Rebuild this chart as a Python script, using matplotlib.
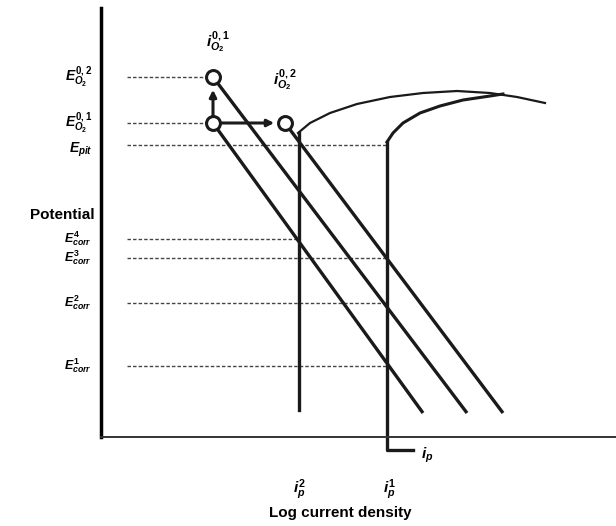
import matplotlib
matplotlib.use("Agg")
import matplotlib.pyplot as plt

plt.rcParams['font.family'] = ['Liberation Sans', 'DejaVu Sans']
plt.rcParams['mathtext.fontset'] = 'custom'
plt.rcParams['mathtext.it'] = 'Liberation Sans:italic:bold'
plt.rcParams['mathtext.rm'] = 'Liberation Sans:bold'
plt.rcParams['mathtext.bf'] = 'Liberation Sans:bold'

# ---- data (arbitrary units: log current density, potential) ----
e_labels = [r'$E^{0,2}_{O_2}$', r'$E^{0,1}_{O_2}$', r'$E_{pit}$',
            r'$E^{4}_{corr}$', r'$E^{3}_{corr}$', r'$E^{2}_{corr}$', r'$E^{1}_{corr}$']
e_values = [360, 314, 292, 198, 179, 134, 71]
e_line_end = [112, 112, 286, 198, 286, 286, 286]
e_line_start = 26

# O2 reduction (Tafel) lines
tafel_x0 = [112, 112, 184]
tafel_y0 = [314, 360, 314]
tafel_x1 = [322, 366, 402]
tafel_y1 = [24, 24, 24]

# exchange current density points
circle_x = [112, 112, 184]
circle_y = [360, 314, 314]

# passive current densities
ip2_x = 198
ip1_x = 286
ip2_top, ip2_bottom = 304, 27
ip1_top, ip1_bottom = 295, -13

# anodic curves
curve1_x = [197, 209, 229, 256, 289, 322, 356, 389, 416, 444]
curve1_y = [304, 314, 324, 333, 340, 344, 346, 344, 340, 334]
curve2_x = [286, 292, 302, 319, 339, 362, 389, 402]
curve2_y = [295, 304, 314, 324, 331, 337, 341, 343]

W, H = 616, 526
fig = plt.figure(figsize=(W / 100, H / 100), dpi=100)
ax = fig.add_axes([101 / W, (H - 437) / H, (W - 101) / W, (437 - 8) / H])
ax.set_xlim(0, 515)
ax.set_ylim(0, 429)
ax.set_xticks([])
ax.set_yticks([])
for s in ['top', 'right']:
    ax.spines[s].set_visible(False)
ax.spines['left'].set_linewidth(2.5)
ax.spines['bottom'].set_linewidth(1.4)
ax.spines['bottom'].set_color('#333333')

# dotted potential levels
for y, xe in zip(e_values, e_line_end):
    ax.plot([e_line_start, xe], [y, y], color='#444444', lw=1.0,
            linestyle=(0, (2.5, 1.5)))

# Tafel lines
for x0, y0, x1, y1 in zip(tafel_x0, tafel_y0, tafel_x1, tafel_y1):
    ax.plot([x0, x1], [y0, y1], color='#1a1a1a', lw=2.4, solid_capstyle='butt')

# verticals (passive current densities)
ax.plot([ip2_x, ip2_x], [ip2_top, ip2_bottom], color='#1a1a1a', lw=2.4)
ax.plot([ip1_x, ip1_x, 312], [ip1_top, ip1_bottom, ip1_bottom], color='#1a1a1a',
        lw=2.4, clip_on=False)

# anodic curves
ax.plot(curve1_x, curve1_y, color='#1a1a1a', lw=1.6, solid_joinstyle='round')
ax.plot(curve2_x, curve2_y, color='#1a1a1a', lw=2.2, solid_joinstyle='round')

# arrows
ax.annotate('', xy=(112, 350), xytext=(112, 318),
            arrowprops=dict(arrowstyle='-|>', color='#1a1a1a', lw=2.2, mutation_scale=10))
ax.annotate('', xy=(176, 314), xytext=(116, 314),
            arrowprops=dict(arrowstyle='-|>', color='#1a1a1a', lw=2.2, mutation_scale=10))

# circles
ax.plot(circle_x, circle_y, 'o', ms=10, mfc='white', mec='#1a1a1a', mew=2.2, zorder=5)

# left labels
for lab, y in zip(e_labels, e_values):
    fs = 9 if 'corr' in lab else 10
    ax.text(-9, y - (5 if 'pit' in lab else 0), lab, ha='right', va='center',
            fontsize=fs, clip_on=False)
ax.text(-6, 222, 'Potential', ha='right', va='center', fontsize=11,
        fontweight='bold', clip_on=False)

# top labels
ax.text(117, 395, r'$i^{0,1}_{O_2}$', ha='center', va='center', fontsize=11, clip_on=False)
ax.text(184, 357, r'$i^{0,2}_{O_2}$', ha='center', va='center', fontsize=11, clip_on=False)

# bottom labels
ax.text(ip2_x, -53, r'$i^{2}_{p}$', ha='center', va='center', fontsize=11, clip_on=False)
ax.text(ip1_x + 2, -53, r'$i^{1}_{p}$', ha='center', va='center', fontsize=11, clip_on=False)
ax.text(326, -18, r'$i_{p}$', ha='center', va='center', fontsize=11, clip_on=False)
ax.text(239, -76, 'Log current density', ha='center', va='center', fontsize=11,
        fontweight='bold', clip_on=False)

fig.savefig('out.png', dpi=100)
